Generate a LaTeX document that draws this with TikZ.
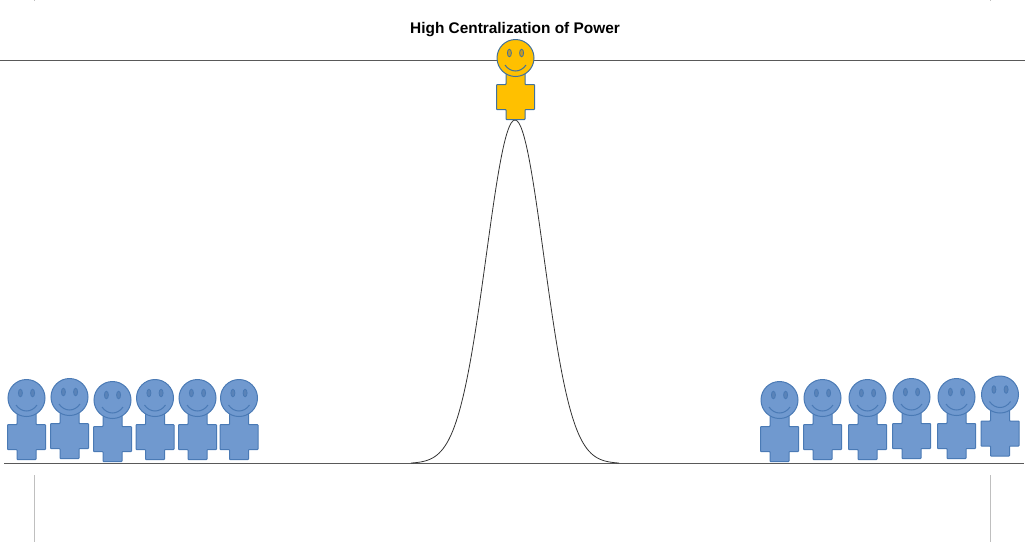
\documentclass[tikz,border=0pt]{standalone}
\usepackage{fontspec}
\setmainfont{Liberation Sans}
\definecolor{bluefill}{HTML}{7099CF}
\definecolor{bluedark}{HTML}{4A7AB5}
\definecolor{eyeblue}{HTML}{5A83B8}
\definecolor{goldfill}{HTML}{FFC000}
\definecolor{goldeye}{HTML}{C79A20}
\definecolor{edgeblue}{HTML}{41719C}
\tikzset{
  rule/.style={draw=black!65, line width=1pt},
  guide/.style={draw=black!25, line width=1pt},
  bell/.style={draw=black!80, line width=0.8pt, line join=round},
  person/.pic={
    \draw[pic actions, line width=1pt, rounded corners=0.7pt]
      (-9.5,15) -- (9.5,15) -- (9.5,26.5) -- (19,26.5) -- (19,51.5) -- (9.5,51.5)
      -- (9.5,61.5) -- (-9.5,61.5) -- (-9.5,51.5) -- (-19,51.5) -- (-19,26.5)
      -- (-9.5,26.5) -- cycle;
    \draw[pic actions, line width=1pt] (0,0) circle (18.5);
    \draw[pic actions, line width=0.8pt, fill=\eyeshade] (-6.1,-5) ellipse (2 and 3.8);
    \draw[pic actions, line width=0.8pt, fill=\eyeshade] (6.1,-5) ellipse (2 and 3.8);
    \draw[pic actions, fill=none, line width=1pt] (-10.5,7) .. controls (-5,15) and (5,15) .. (10.5,7);
  }
}
\def\eyeshade{eyeblue}
\begin{document}
\begin{tikzpicture}[x=1pt,y=-1pt]
\useasboundingbox (0,0) rectangle (1025,542);
\draw[rule] (0,60.7) -- (1025,60.7);
\draw[rule] (4,463.5) -- (1024,463.5);
\draw[guide] (34.3,475) -- (34.3,542);
\draw[guide] (990.3,475) -- (990.3,542);
\draw[guide, line width=0.7pt] (34.3,0) -- (34.3,1);
\draw[guide, line width=0.7pt] (990.3,0) -- (990.3,1);
\draw[bell] plot[smooth, domain=-104:104, samples=105] ({515+\x},{463.5-343.5*exp(-(\x*\x)/(2*28.7*28.7))});
\node[font=\bfseries, inner sep=0pt, anchor=center] (title) at (515,30) {\fontsize{15.4pt}{17pt}\selectfont High Centralization of Power};
\foreach \px/\py in {26.5/398,69.5/397,112.5/400,155/398,197.5/398,239/398,
                     779.5/400,822.5/398,867.5/398,911.5/397,956.5/397,1000/394.5}
  \pic[draw=bluedark, fill=bluefill] at (\px,\py) {person};
\def\eyeshade{goldeye}
\pic[draw=edgeblue, fill=goldfill] at (515.5,58) {person};
\end{tikzpicture}
\end{document}
